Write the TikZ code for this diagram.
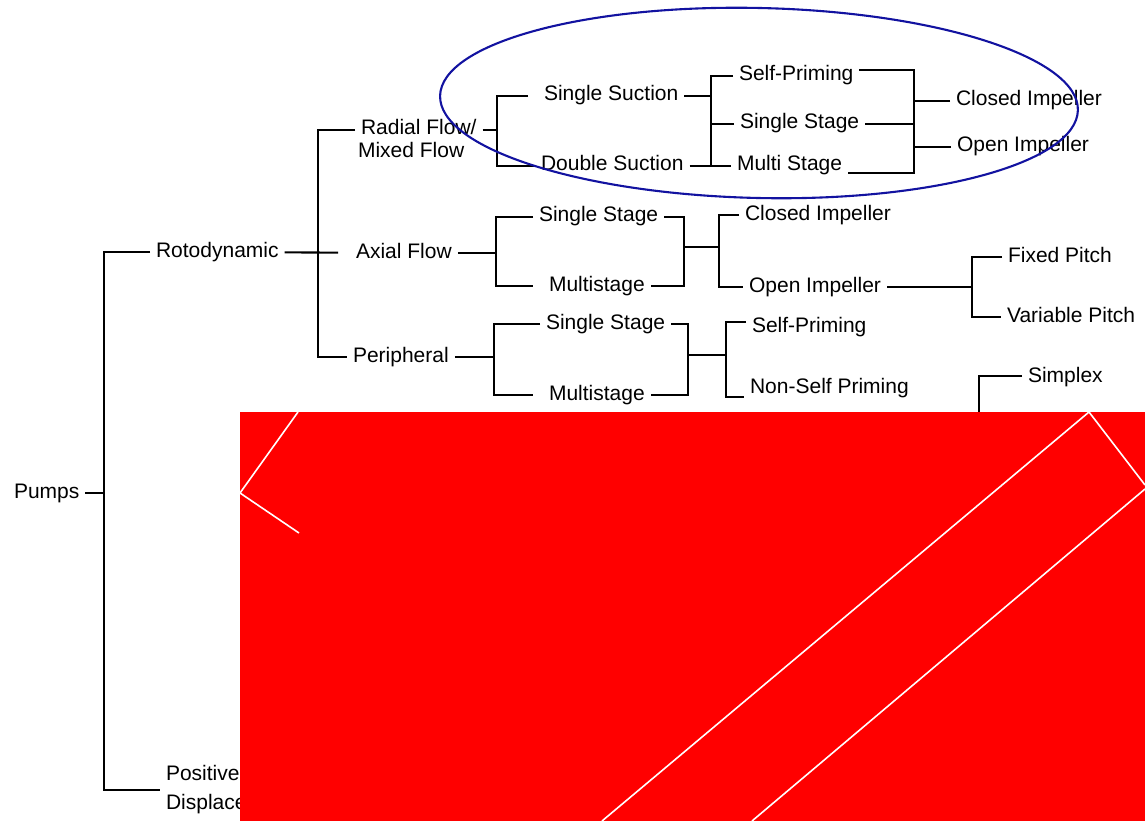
\documentclass[tikz,border=0pt]{standalone}
\usepackage{fontspec}
\setmainfont{Liberation Sans}
\usepackage{xcolor}
\usepackage{tikz}
\usetikzlibrary{calc, positioning}
\definecolor{ovalblue}{HTML}{1212A0}
\tikzset{
    pumptree/.style={x=1pt, y=-1pt, line width=2.1pt},
    lbl/.style={anchor=west, inner xsep=5pt, inner ysep=0pt, font=\fontsize{21}{24}\selectfont,
                text height=15pt, text depth=5pt},
    lbltwo/.style={anchor=west, inner xsep=5pt, inner ysep=0pt, align=left,
                font=\fontsize{21}{29}\selectfont},
    jn/.style={coordinate},
    oval/.style={draw=ovalblue, line width=2.1pt},
    cover/.style={fill=red},
    stripe/.style={draw=white, line width=1.6pt},
}

\begin{document}
\begin{tikzpicture}[pumptree]
    \useasboundingbox (0,0) rectangle (1145,821);

    % labels
    \node[lbl]    (pumps)    at (8,493)    {Pumps};
    \node[lbl]    (roto)     at (150,252)  {Rotodynamic};
    \node[lbltwo] (posdisp)  at (160,790)  {Positive\\Displacement};
    \node[lbl]    (radial)   at (355,130)  {Radial Flow/};
    \node[lbl]    (mixed)    at (352,153)  {Mixed Flow};
    \node[lbl]    (axial)    at (350,253)  {Axial Flow};
    \node[lbl]    (periph)   at (347,357)  {Peripheral};

    \node[lbl]    (ssuct)    at (538,96)   {Single Suction};
    \node[lbl]    (dsuct)    at (535,166)  {Double Suction};
    \node[lbl]    (selfpa)   at (733,76)   {Self-Priming};
    \node[lbl]    (sstagea)  at (734,124)  {Single Stage};
    \node[lbl]    (mstagea)  at (731,166)  {Multi Stage};
    \node[lbl]    (closeda)  at (950,101)  {Closed Impeller};
    \node[lbl]    (opena)    at (951,147)  {Open Impeller};

    \node[lbl]    (sstageb)  at (533,217)  {Single Stage};
    \node[lbl]    (mstageb)  at (543,286)  {Multistage};
    \node[lbl]    (closedb)  at (739,215)  {Closed Impeller};
    \node[lbl]    (openb)    at (743,287)  {Open Impeller};
    \node[lbl]    (fixed)    at (1002,257) {Fixed Pitch};
    \node[lbl]    (variable) at (1001,317) {Variable Pitch};

    \node[lbl]    (sstagec)  at (540,324)  {Single Stage};
    \node[lbl]    (mstagec)  at (543,395)  {Multistage};
    \node[lbl]    (selfpc)   at (746,327)  {Self-Priming};
    \node[lbl]    (nonself)  at (744,388)  {Non-Self Priming};
    \node[lbl]    (simplex)  at (1022,377) {Simplex};

    % bracket points
    \node[jn] (ja)   at (104,493) {};
    \node[jn] (jb)   at (318,253) {};
    \node[jn] (jc)   at (497,130) {};
    \node[jn] (jd)   at (711,96)  {};
    \node[jn] (etop) at (914,70)  {};
    \node[jn] (ebot) at (914,173) {};
    \node[jn] (jf)   at (496,253) {};
    \node[jn] (jg)   at (684,247) {};
    \node[jn] (jh)   at (719,247) {};
    \node[jn] (ji)   at (972,287) {};
    \node[jn] (jj)   at (494,357) {};
    \node[jn] (jk)   at (688,355) {};
    \node[jn] (jl)   at (726,355) {};
    \node[jn] (ltop) at (726,322) {};
    \node[jn] (lbot) at (726,397) {};
    \node[jn] (mtop) at (979,376) {};
    \node[jn] (mhid) at (979,450) {};

    % pumps
    \draw (pumps) -- (ja);
    \draw (roto.west) -| (ja) |- (posdisp.west);

    % rotodynamic
    \draw[shorten >=12pt] (roto) -- (axial);
    \draw (radial.west) -| (jb) |- (periph.west);

    % radial / mixed flow
    \draw (radial) -- (jc);
    \draw[shorten <=10pt] (ssuct.west) -| (jc) |- (dsuct.west);
    \draw (ssuct) -- (jd);
    \draw (selfpa.west) -| (jd) |- (mstagea.west);
    \draw (sstagea.west) -- (sstagea.west -| jd);
    \draw (dsuct) -- (dsuct -| jd);
    \draw (selfpa.east |- etop) -- (etop) -- (ebot) -- (mstagea.east |- ebot);
    \draw (sstagea) -- (sstagea -| etop);
    \draw (closeda) -- (closeda -| etop);
    \draw (opena) -- (opena -| etop);

    % axial flow
    \draw (axial) -- (jf);
    \draw[shorten >=10pt] (sstageb.west) -| (jf) |- (mstageb.west);
    \draw (sstageb.east) -| (jg) |- (mstageb.east);
    \draw (jg) -- (jh);
    \draw (closedb.west) -| (jh) |- (openb.west);
    \draw (openb) -- (ji);
    \draw (fixed.west) -| (ji) |- (variable.west);

    % peripheral
    \draw (periph) -- (jj);
    \draw[shorten >=10pt] (sstagec.west) -| (jj) |- (mstagec.west);
    \draw (sstagec.east) -| (jk) |- (mstagec.east);
    \draw (jk) -- (jl);
    \draw (selfpc.west |- ltop) -- (ltop) -- (lbot) -- (nonself.west |- lbot);

    % simplex stub
    \draw (simplex.west |- mtop) -- (mtop) -- (mhid);

    % ring round the radial flow branch
    \node[jn] (oc) at (759,103) {};
    \draw[oval, rotate around={-1.3:(oc)}] (oc) ellipse [x radius=319, y radius=95];

    % red panel on top
    \fill[cover] (240,412) rectangle (1145,821);
    \draw[stripe] (298,412) -- (240,493) -- (299,533);
    \draw[stripe] (602,821) -- (1089,412) -- (1145,485);
    \draw[stripe] (1145,489) -- (752,821);
\end{tikzpicture}
\end{document}
